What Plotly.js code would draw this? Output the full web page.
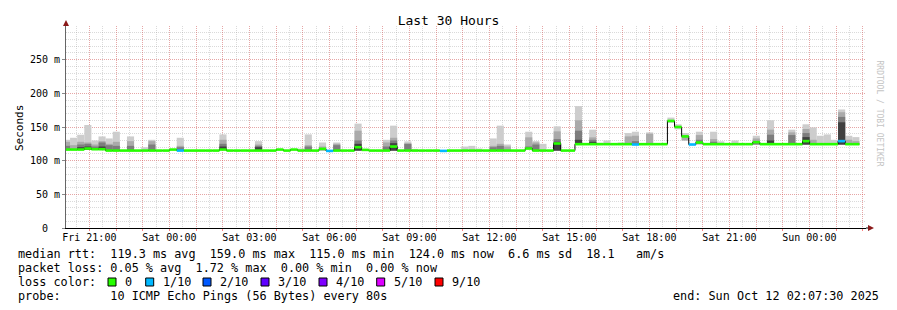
<!DOCTYPE html>
<html><head><meta charset="utf-8">
<script src="https://cdn.plot.ly/plotly-3.0.1.min.js"></script>
<style>html,body{margin:0;padding:0;background:#fff;} #chart{width:897px;height:310px;}</style>
</head><body><div id="chart"></div>
<script>
const _ = null;
// 16-minute bins, first (partial) bin starts Fri 20:00:40
const binStartISO = '2025-10-10T20:00:40Z';
const binMinutes = 16;
// median rtt (ms) per bin
const med = [
 116.5,116.5,116.5,118,117,117,115,115,115,115,
 115,115,115,115,115,116.5,115,115,115,115,
 115,115,116.5,115,115,115,115,115,115,115,
 116.5,115,116.5,115,115,115,117.5,114.5,115,115,
 115,120,116,115,115,115,121,115,115,115,
 115,115,115,114.5,115,115,115,115,115,115,
 115,115,115,115,115,118,115,115,115,125.5,
 115,115,124.5,124.5,124.5,124.5,124.5,124.5,124.5,124.5,
 124,124.5,124.5,124.5,124.5,159,150,136,124,127,
 124.5,124.5,124.5,124.5,124.5,124.5,124.5,127.5,124.5,124.5,
 124.5,124.5,124.5,124.5,129,124.5,124.5,124.5,124.5,129,
 124.5,124.5
];
// lost pings out of 10 per bin
const loss = [
 0,0,0,0,0,0,0,0,0,0, 0,0,0,0,0,0,1,0,0,0, 0,0,0,0,0,0,0,0,0,0,
 0,0,0,0,0,0,0,1,0,0, 0,0,0,0,0,0,0,0,0,0, 0,0,0,1,0,0,0,0,0,0,
 0,0,0,0,0,0,0,0,0,0, 0,0,0,0,0,0,0,0,0,0, 1,0,0,0,0,0,0,0,1,0,
 0,0,0,0,0,0,0,0,0,0, 0,0,0,0,0,0,0,0,0,1, 0,0
];
// lowest ping (smoke bottom) where it lies below the median
const lo = [
 _,_,_,116,_,_,_,_,_,_, _,_,_,_,_,_,_,_,_,_, _,_,_,_,_,_,_,_,_,_,
 _,_,_,_,_,_,115,_,_,_, _,115,_,_,_,_,115,_,_,_, _,_,_,_,_,_,_,_,_,_,
 _,_,_,_,_,_,_,_,_,115, _,_,_,_,_,_,_,_,_,_, _,_,_,_,_,156,146.5,130,_,124.5,
 _,_,_,_,_,_,_,124,_,_, _,_,_,_,124,_,_,_,_,124, _,_
];
// smoke tops (ms): outer pings (light) to inner pings (dark)
const smoke1 = [
 131,134,138.5,153,130,136,133,143,_,136, _,120,131,_,_,_,134,_,_,_,
 _,_,139,_,_,_,_,129,_,_, _,_,_,118,139,_,127,_,127,_,
 _,155,_,_,_,131,152,_,128.6,117.5, _,_,_,_,_,_,121,122,118,_,
 133,152,124,_,_,143,129,125,_,151, _,_,181,_,146,126.5,130,_,127,141,
 143,_,142,_,_,164,154,141,_,143, _,143,128.7,_,130,_,_,137,_,160,
 _,_,146,_,154,149.4,137,139,131,176, 137,135
];
const smoke2 = [
 128,123,128,127,124,129,125,128,_,129, _,_,129,_,_,_,122,_,_,_,
 _,_,131,_,_,_,_,124,_,_, _,_,_,_,123,_,121,_,125,_,
 _,144.5,_,_,_,127,134,_,126,_, _,_,_,_,_,_,_,_,_,_,
 122,125,121,_,_,134.6,127,_,_,143.5, _,_,160,_,134.6,_,_,_,_,136,
 137,_,140,_,_,_,_,138,_,138, _,132,_,_,_,_,_,133,_,146,
 _,_,142,_,147,131,_,_,_,172, 131,129
];
const smoke3 = [
 122,_,124,125,121,127,123,122,_,122, _,_,124,_,_,_,120,_,_,_,
 _,_,125,_,_,_,_,122,_,_, _,_,_,_,121,_,_,_,123,_,
 _,130,_,_,_,121,130,_,124.7,_, _,_,_,_,_,_,_,_,_,_,
 120,122,_,_,_,121,124,_,_,132, _,_,144.5,_,131,_,_,_,_,_,
 129,_,_,_,_,_,_,_,_,131, _,128,_,_,_,_,_,128,_,138.6,
 _,_,138,_,141,_,_,_,_,165, _,_
];
const smoke4 = [
 _,_,120,121,_,121,_,_,_,_, _,_,_,_,_,_,_,_,_,_,
 _,_,121,_,_,_,_,120,_,_, _,_,_,_,_,_,_,_,_,_,
 _,125,_,_,_,_,126,_,_,_, _,_,_,_,_,_,_,_,_,_,
 _,_,_,_,_,_,_,_,_,128, _,_,131,_,128,_,_,_,_,_,
 _,_,_,_,_,_,_,_,_,_, _,_,_,_,_,_,_,_,_,130,
 _,_,_,_,135,_,_,_,_,157, _,_
];
const smokeColors = ['#cdcdcd','#aaaaaa','#7d7d7d','#404040'];
const lossColors = ['#26ff00','#00b8ff','#0059ff','#5e00ff','#7e00ff','#dd00ff','#ff0000'];
const lossLabels = ['0','1/10','2/10','3/10','4/10','5/10','9/10'];
const xTickLabels = ['Fri 21:00','Sat 00:00','Sat 03:00','Sat 06:00','Sat 09:00','Sat 12:00','Sat 15:00','Sat 18:00','Sat 21:00','Sun 00:00'];
const yTickVals = [0,50,100,150,200,250];
const yTickText = ['0\u00a0\u00a0','50 m','100 m','150 m','200 m','250 m'];
const rangeStart = '2025-10-10 20:07:30', rangeEnd = '2025-10-12 02:07:30';
const firstHourTick = '2025-10-10T21:00:00Z';
const statLines = [
 'median rtt:  119.3 ms avg  159.0 ms max  115.0 ms min  124.0 ms now  6.6 ms sd  18.1   am/s',
 'packet loss: 0.05 % avg  1.72 % max  0.00 % min  0.00 % now',
 'loss color:',
 'probe:       10 ICMP Echo Pings (56 Bytes) every 80s'
];
const endText = 'end: Sun Oct 12 02:07:30 2025';

// ---------- build ----------
const BIN = binMinutes*60000;
const t0 = Date.parse(binStartISO);
const fmt = ms => new Date(ms).toISOString().slice(0,19).replace('T',' ');
const N = med.length;
const starts = med.map((_v,i)=> t0 + i*BIN);
const xc = starts.map(s => fmt(s + BIN/2));
const base = med.map((m,i)=> lo[i]!=null ? lo[i] : m);
const traces = [];
[smoke1,smoke2,smoke3,smoke4].forEach((arr,j)=>{
  traces.push({type:'bar', x:xc, base:base, y:arr.map((v,i)=> v==null?null:v-base[i]),
    width:BIN, marker:{color:smokeColors[j], line:{width:0}}, hoverinfo:'skip', showlegend:false});
});
traces.push({type:'scatter', mode:'lines', x:starts.map(fmt).concat([fmt(t0+N*BIN)]),
  y:med.concat([med[N-1]]), line:{shape:'hv', color:'#000', width:1}, hoverinfo:'skip', showlegend:false});
[...new Set(loss)].forEach(lv=>{
  const xs=[], ys=[];
  med.forEach((m,i)=>{ if(loss[i]===lv){ xs.push(fmt(starts[i]),fmt(starts[i]+BIN),null); ys.push(m,m,null);} });
  traces.push({type:'scatter', mode:'lines', x:xs, y:ys, line:{color:lossColors[lv], width:2.6}, hoverinfo:'skip', showlegend:false});
});

const hourTicks=[], hourText=[];
const h0 = Date.parse(firstHourTick);
for(let i=0;i<30;i++){ hourTicks.push(fmt(h0+i*3600000)); hourText.push(i%3===0 ? xTickLabels[i/3] : ''); }

const L=66,R=866,T=26,B=228;
const X = px => (px-L)/(R-L), Y = py => (B-py)/(B-T);
const MONO = 'DejaVu Sans Mono';
const nb = s => s.replace(/ /g,'\u00a0');
const ann = [];
statLines.forEach((s,i)=> ann.push({xref:'paper',yref:'paper',x:X(16),y:Y(254.3+14*i),xanchor:'left',yanchor:'middle',
  text:nb(s),showarrow:false,font:{family:MONO,size:11.8,color:'#000'}}));
ann.push({xref:'paper',yref:'paper',x:X(881),y:Y(296.3),xanchor:'right',yanchor:'middle',text:nb(endText),showarrow:false,font:{family:MONO,size:11.8,color:'#000'}});
const sqX=[108,145.7,203,261,319,376.7,435], lblX=[123,160.7,218,276,334,391.7,450];
const shapes=[];
lossLabels.forEach((t,i)=>{
  ann.push({xref:'paper',yref:'paper',x:X(lblX[i]),y:Y(282.3),xanchor:'left',yanchor:'middle',text:t,showarrow:false,font:{family:MONO,size:11.8,color:'#000'}});
  shapes.push({type:'rect',xref:'paper',yref:'paper',x0:X(sqX[i]),x1:X(sqX[i]+8),y0:Y(278),y1:Y(286),fillcolor:lossColors[i],line:{color:'#000',width:1}});
});
ann.push({xref:'paper',yref:'paper',x:X(11),y:Y(127.5),textangle:-90,text:'Seconds',showarrow:false,font:{family:MONO,size:11,color:'#000'}});
ann.push({xref:'paper',yref:'paper',x:X(886),y:Y(59),textangle:90,text:nb('RRDTOOL / TOBI OETIKER'),showarrow:false,font:{family:MONO,size:8,color:'#c4c4c4'}});
shapes.push({type:'line',xref:'paper',yref:'paper',x0:1,x1:X(870),y0:0,y1:0,line:{color:'#000',width:1}});
shapes.push({type:'path',xref:'paper',yref:'paper',path:`M${X(868)},${Y(225)} L${X(874)},${Y(228)} L${X(868)},${Y(231)} Z`,fillcolor:'#8b1a1a',line:{width:0}});
shapes.push({type:'path',xref:'paper',yref:'paper',path:`M${X(63)},${Y(26)} L${X(66)},${Y(20)} L${X(69)},${Y(26)} Z`,fillcolor:'#8b1a1a',line:{width:0}});

const redGrid='rgba(255,60,60,0.33)', grayGrid='rgba(150,150,150,0.35)';
const layout = {
  width:897, height:310, margin:{l:L,r:897-R,t:T,b:310-B},
  paper_bgcolor:'#fff', plot_bgcolor:'#fff', barmode:'overlay',
  font:{family:MONO,size:10,color:'#000'},
  title:{text:'Last 30 Hours',font:{family:MONO,size:13,color:'#000'},xref:'container',x:0.5,yref:'container',y:1-20/310,yanchor:'middle'},
  xaxis:{type:'date',range:[rangeStart,rangeEnd],tickmode:'array',tickvals:hourTicks,ticktext:hourText,
    showgrid:true,gridcolor:redGrid,griddash:'1px,1px',gridwidth:1,
    minor:{dtick:1800000,tick0:'2025-10-10 20:30:00',showgrid:true,gridcolor:grayGrid,griddash:'1px,1px',ticks:''},
    showline:true,linecolor:'#000',linewidth:1,ticks:'outside',ticklen:2,tickcolor:'rgba(255,0,0,0.5)',
    ticklabelstandoff:-2,
    tickfont:{family:MONO,size:10,color:'#000'},zeroline:false,fixedrange:true},
  yaxis:{range:[0,300],tickmode:'array',tickvals:yTickVals,ticktext:yTickText,
    showgrid:true,gridcolor:redGrid,griddash:'1px,1px',gridwidth:1,
    minor:{dtick:10,tick0:0,showgrid:true,gridcolor:grayGrid,griddash:'1px,1px',ticks:''},
    showline:true,linecolor:'#666',linewidth:1,ticks:'outside',ticklen:3,tickcolor:'#888',
    tickfont:{family:MONO,size:10,color:'#000'},zeroline:false,fixedrange:true},
  annotations:ann, shapes:shapes, showlegend:false
};
Plotly.newPlot('chart', traces, layout, {staticPlot:true, displayModeBar:false});
</script></body></html>
